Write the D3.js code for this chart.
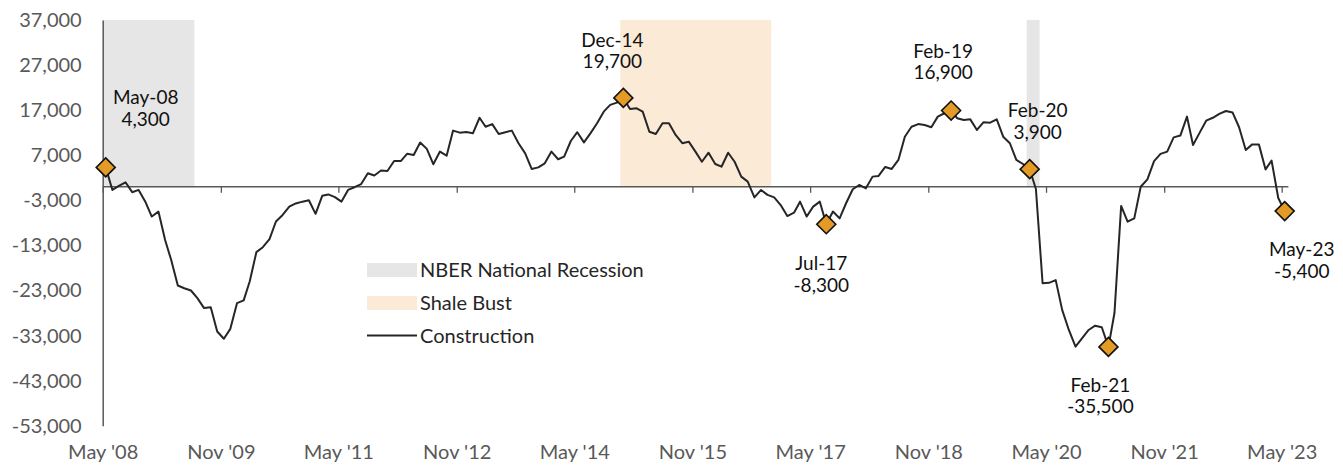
<!DOCTYPE html>
<html>
<head>
<meta charset="utf-8">
<script src="https://cdn.jsdelivr.net/npm/d3@7"></script>
<style>
  body { margin: 0; background: #fff; }
  svg { display: block; font-family: Lato, "Open Sans", sans-serif; }
</style>
</head>
<body>
<svg id="chart" width="1343" height="465"></svg>
<script>
// first month of the series, then one value per month (May 2008 .. May 2023)
var startMonth = "2008-05";
var construction = [
  4300, -700, 200, 1000, -1200, -700, -3300, -6600, -5500, -11800,
  -16200, -21900, -22500, -23000, -24700, -26900, -26700, -32100, -33700, -31500,
  -25800, -25200, -21000, -14500, -13400, -11600, -7700, -6250, -4400, -3700,
  -3300, -3000, -6000, -2000, -1700, -2300, -3300, -700, -100, 600,
  3000, 2500, 3600, 3500, 5700, 5700, 7300, 7050, 9800, 8400,
  5000, 7800, 6900, 12450, 12000, 12150, 11850, 15300, 13300, 13900,
  11700, 12100, 12450, 9650, 7400, 3950, 4300, 5200, 7800, 6100,
  6700, 10150, 12100, 9850, 11850, 14100, 16650, 18150, 18650, 19700,
  17250, 17400, 16650, 12200, 11700, 14100, 14100, 11500, 9650, 10000,
  7800, 5550, 7550, 5050, 4450, 7550, 5550, 2250, 1150, -2350,
  -700, -1800, -2350, -4050, -6500, -5750, -3300, -6600, -4400, -3300,
  -8300, -5500, -7000, -3650, -550, 400, -350, 2250, 2400, 4400,
  3950, 5950, 11100, 13300, 13900, 13700, 13200, 15550, 16300, 16900,
  15200, 14800, 14950, 12600, 14300, 14200, 14950, 11100, 9650, 5950,
  5050, 3900, -500, -21400, -21300, -20700, -27300, -31750, -35450, -33600,
  -31750, -30800, -31150, -35500, -28000, -4250, -7750, -7000, 0, 1650,
  5700, 7300, 7800, 10950, 11350, 15550, 9250, 12000, 14650, 15300,
  16150, 16800, 16450, 13200, 8150, 9400, 9400, 3850, 5800, -2500,
  -5400
];

// highlighted points
var calloutMonths = ["2008-05", "2014-12", "2017-07", "2019-02", "2020-02", "2021-02", "2023-05"];
var calloutNames  = ["May-08", "Dec-14", "Jul-17", "Feb-19", "Feb-20", "Feb-21", "May-23"];
var calloutValues = [4300, 19700, -8300, 16900, 3900, -35500, -5400];

// shaded periods [start, end)
var recessions = [["2007-12", "2009-07"], ["2020-02", "2020-04"]];
var shaleBust  = [["2014-12", "2016-11"]];

var xTickMonths = ["2008-05", "2009-11", "2011-05", "2012-11", "2014-05", "2015-11",
                   "2017-05", "2018-11", "2020-05", "2021-11", "2023-05"];
var xTickLabels = ["May '08", "Nov '09", "May '11", "Nov '12", "May '14", "Nov '15",
                   "May '17", "Nov '18", "May '20", "Nov '21", "May '23"];
var yTicks = [37000, 27000, 17000, 7000, -3000, -13000, -23000, -33000, -43000, -53000];

var parseMonth = d3.timeParse("%Y-%m");
var fmt = d3.formatLocale({decimal: ".", thousands: ",", grouping: [3], currency: ["$", ""], minus: "-"}).format(",");

var start = parseMonth(startMonth);
var data = construction.map(function(v, i) {
  var d = d3.timeMonth.offset(start, i);
  return {date: d3.timeDay.offset(d, 14), value: v};
});

var svg = d3.select("#chart");

var x = d3.scaleTime()
  .domain([parseMonth("2008-05"), parseMonth("2023-05")])
  .range([102.7, 1281.7]);
var y = d3.scaleLinear()
  .domain([-53000, 37000])
  .range([425.8, 19.9]);

var axisColor = "#595959";
var plotLeft = x(parseMonth("2008-05"));
var plotRight = x(parseMonth("2023-06"));

// bands
function band(list, color) {
  svg.append("g").selectAll("rect")
    .data(list)
    .join("rect")
      .attr("x", function(d) { return Math.max(plotLeft, x(parseMonth(d[0]))); })
      .attr("width", function(d) { return x(parseMonth(d[1])) - Math.max(plotLeft, x(parseMonth(d[0]))); })
      .attr("y", y(37000))
      .attr("height", y(0) - y(37000))
      .attr("fill", color);
}
band(recessions, "#e6e6e6");
band(shaleBust, "#fbead6");

// zero line with ticks
svg.append("line")
  .attr("x1", plotLeft).attr("x2", plotRight)
  .attr("y1", y(0)).attr("y2", y(0))
  .attr("stroke", axisColor).attr("stroke-width", 1.5);

var zeroAxis = svg.append("g")
  .attr("transform", "translate(0," + y(0) + ")")
  .call(d3.axisBottom(x).tickValues(xTickMonths.map(parseMonth)).tickSize(6).tickFormat(""));
zeroAxis.select(".domain").remove();
zeroAxis.selectAll("line").attr("stroke", axisColor).attr("stroke-width", 1.3);

// bottom labels
var xLabels = svg.append("g")
  .attr("transform", "translate(0,442)")
  .call(d3.axisBottom(x).tickValues(xTickMonths.map(parseMonth)).tickSize(0).tickPadding(3)
    .tickFormat(function(d, i) { return xTickLabels[i]; }));
xLabels.select(".domain").remove();
xLabels.selectAll("text")
  .attr("font-family", "Lato, sans-serif")
  .attr("font-size", 20)
  .attr("fill", axisColor);

// y axis
var yAxis = svg.append("g")
  .attr("transform", "translate(" + plotLeft + ",0)")
  .call(d3.axisLeft(y).tickValues(yTicks).tickSize(0).tickPadding(21).tickFormat(fmt));
yAxis.select(".domain").attr("stroke", axisColor).attr("stroke-width", 1.5);
yAxis.selectAll("text")
  .attr("font-family", "Lato, sans-serif")
  .attr("font-size", 20)
  .attr("fill", axisColor);

// series
var line = d3.line()
  .x(function(d) { return x(d.date); })
  .y(function(d) { return y(d.value); });

svg.append("path")
  .datum(data)
  .attr("d", line)
  .attr("fill", "none")
  .attr("stroke", "#262626")
  .attr("stroke-width", 2)
  .attr("stroke-linejoin", "round");

// callouts
var callouts = calloutMonths.map(function(m, i) {
  return {date: d3.timeDay.offset(parseMonth(m), 14), name: calloutNames[i], value: calloutValues[i]};
});

// label offsets from the marker: [dx, dy of first line centre]
var labelOffset = {
  "May-08": [40, -70],
  "Dec-14": [-11, -58],
  "Jul-17": [-5, 39],
  "Feb-19": [-8, -60],
  "Feb-20": [8, -59],
  "Feb-21": [-8, 38],
  "May-23": [17, 38]
};

svg.append("g").selectAll("path")
  .data(callouts)
  .join("path")
    .attr("transform", function(d) { return "translate(" + x(d.date) + "," + y(d.value) + ")"; })
    .attr("d", "M0,-9.5L9.5,0L0,9.5L-9.5,0Z")
    .attr("fill", "#e39b26")
    .attr("stroke", "#111")
    .attr("stroke-width", 1.6);

var labels = svg.append("g")
  .attr("font-family", "Lato, sans-serif")
  .attr("font-size", 19)
  .attr("fill", "#111")
  .attr("text-anchor", "middle")
  .selectAll("text")
  .data(callouts)
  .join("text")
    .attr("x", function(d) { return x(d.date) + labelOffset[d.name][0]; })
    .attr("y", function(d) { return y(d.value) + labelOffset[d.name][1] + 7; });
labels.append("tspan").text(function(d) { return d.name; });
labels.append("tspan")
  .attr("x", function(d) { return x(d.date) + labelOffset[d.name][0]; })
  .attr("dy", 21.5)
  .text(function(d) { return fmt(d.value); });

// legend
var legend = svg.append("g")
  .attr("transform", "translate(367,0)")
  .attr("font-family", "Lato, sans-serif")
  .attr("font-size", 20)
  .attr("fill", "#262626");
legend.append("rect").attr("x", 0).attr("y", 263).attr("width", 50).attr("height", 14).attr("fill", "#e6e6e6");
legend.append("text").attr("x", 53).attr("y", 277).text("NBER National Recession");
legend.append("rect").attr("x", 0).attr("y", 296).attr("width", 50).attr("height", 14).attr("fill", "#fbead6");
legend.append("text").attr("x", 53).attr("y", 310).text("Shale Bust");
legend.append("line").attr("x1", 0).attr("x2", 50).attr("y1", 335.5).attr("y2", 335.5)
  .attr("stroke", "#262626").attr("stroke-width", 2);
legend.append("text").attr("x", 53).attr("y", 342.5).text("Construction");
</script>
</body>
</html>
